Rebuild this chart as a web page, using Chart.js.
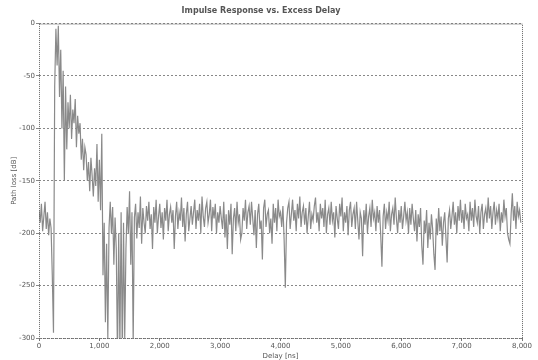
<!DOCTYPE html>
<html>
<head>
<meta charset="utf-8">
<script src="https://cdn.jsdelivr.net/npm/chart.js@4/dist/chart.umd.min.js"></script>
<style>
  body { margin: 0; background: #fff; }
  #wrap { width: 538px; height: 360px; }
</style>
</head>
<body>
<div id="wrap"><canvas id="myChart"></canvas></div>
<script>
// delay step between samples, in ns
const delayStep = 20;
const xTicks = [0, 1000, 2000, 3000, 4000, 5000, 6000, 7000, 8000];
const yTicks = [0, -50, -100, -150, -200, -250, -300];

// path loss samples [dB]
const pathLoss = [
  -178,-190,-172,-198,-184,-170,-196,-180,-202,-186,
  -195,-240,-295,-60,-5,-40,-2,-70,-25,-100,
  -45,-150,-60,-120,-75,-100,-68,-110,-82,-95,
  -72,-118,-88,-105,-95,-130,-110,-140,-118,-125,
  -150,-132,-160,-128,-145,-165,-138,-155,-115,-170,
  -130,-178,-105,-240,-190,-285,-210,-300,-195,-170,
  -200,-175,-230,-185,-215,-320,-200,-310,-180,-320,
  -190,-300,-215,-175,-200,-160,-230,-180,-305,-185,
  -172,-205,-180,-195,-165,-210,-176,-190,-200,-174,
  -188,-170,-196,-182,-215,-175,-190,-168,-200,-184,
  -172,-195,-180,-206,-176,-188,-168,-198,-182,-175,
  -190,-178,-215,-184,-170,-196,-180,-188,-166,-194,
  -176,-208,-182,-170,-198,-186,-174,-192,-180,-168,
  -196,-178,-188,-172,-200,-165,-184,-194,-176,-170,
  -190,-182,-168,-198,-175,-186,-172,-200,-180,-190,
  -174,-186,-196,-170,-204,-182,-215,-178,-192,-172,
  -220,-186,-176,-198,-170,-190,-182,-206,-200,-176,
  -188,-168,-196,-180,-174,-192,-170,-186,-202,-178,
  -214,-182,-172,-196,-188,-225,-176,-168,-194,-182,
  -178,-200,-186,-210,-172,-190,-176,-198,-168,-184,
  -180,-194,-174,-206,-252,-190,-176,-170,-196,-182,
  -168,-188,-178,-198,-172,-186,-165,-194,-180,-174,
  -192,-176,-200,-184,-170,-196,-182,-188,-174,-166,
  -190,-180,-198,-172,-186,-176,-194,-168,-200,-182,
  -176,-192,-170,-188,-180,-204,-174,-186,-196,-172,
  -184,-166,-198,-180,-190,-174,-202,-178,-170,-194,
  -182,-176,-196,-170,-188,-206,-180,-186,-222,-178,
  -192,-172,-200,-184,-176,-194,-168,-186,-180,-198,
  -174,-190,-178,-202,-232,-184,-172,-196,-180,-188,
  -170,-198,-182,-176,-192,-166,-186,-200,-178,-190,
  -174,-196,-184,-170,-188,-180,-200,-176,-192,-172,
  -186,-198,-178,-208,-182,-194,-176,-212,-230,-188,
  -200,-178,-214,-190,-206,-182,-196,-220,-235,-186,
  -202,-176,-198,-184,-212,-190,-180,-204,-228,-186,
  -178,-196,-184,-170,-192,-180,-200,-174,-188,-168,
  -190,-178,-196,-172,-186,-182,-198,-170,-188,-176,
  -194,-168,-184,-190,-174,-200,-180,-172,-196,-182,
  -176,-190,-166,-186,-174,-196,-180,-170,-192,-178,
  -186,-172,-198,-180,-190,-168,-184,-176,-200,-206,
  -210,-182,-162,-188,-174,-196,-170,-184,-178,-190
];

const points = pathLoss.map((v, i) => ({ x: i * delayStep, y: v }));

// dotted box round the plot
const boxPlugin = {
  id: 'box',
  afterDraw(chart) {
    const a = chart.chartArea, ctx = chart.ctx;
    ctx.save();
    ctx.strokeStyle = '#666';
    ctx.lineWidth = 1;
    ctx.setLineDash([1, 1]);
    ctx.strokeRect(a.left + 0.5, a.top + 0.5, a.right - a.left, a.bottom - a.top);
    ctx.restore();
  }
};

new Chart("myChart", {
  type: "line",
  data: {
    datasets: [{
      data: points,
      borderColor: "#8a8a8a",
      borderWidth: 1.2,
      pointRadius: 0,
      tension: 0,
      fill: false
    }]
  },
  options: {
    responsive: true,
    maintainAspectRatio: false,
    animation: false,
    layout: { padding: { left: 0, right: 16, top: 0, bottom: 0 } },
    plugins: {
      legend: { display: false },
      tooltip: { enabled: false },
      title: {
        display: true,
        text: "Impulse Response vs. Excess Delay",
        color: "#555",
        font: { family: "DejaVu Sans", size: 8 },
        padding: { top: 6, bottom: 8 }
      }
    },
    scales: {
      x: {
        type: "linear",
        min: 0,
        max: 8000,
        afterBuildTicks: s => { s.ticks = xTicks.map(v => ({ value: v })); },
        afterFit: s => { s.height = 22; },
        grid: { color: "transparent", tickColor: "#777", tickLength: 3 },
        border: { display: false },
        ticks: { color: "#555", font: { family: "DejaVu Sans", size: 7 }, padding: 1, maxRotation: 0 },
        title: { display: true, text: "Delay [ns]", color: "#555", font: { family: "DejaVu Sans", size: 7 }, padding: 0 }
      },
      y: {
        min: -300,
        max: 0,
        afterBuildTicks: s => { s.ticks = yTicks.map(v => ({ value: v })); },
        afterFit: s => { s.width = 39; },
        grid: { color: "#888", lineWidth: 1, drawTicks: true, tickLength: 3 },
        border: { display: false, dash: [2, 2] },
        ticks: { color: "#555", font: { family: "DejaVu Sans", size: 7 }, padding: 1 },
        title: { display: true, text: "Path loss [dB]", color: "#555", font: { family: "DejaVu Sans", size: 7 }, padding: { top: 10, bottom: 0 } }
      }
    }
  },
  plugins: [boxPlugin]
});
</script>
</body>
</html>
